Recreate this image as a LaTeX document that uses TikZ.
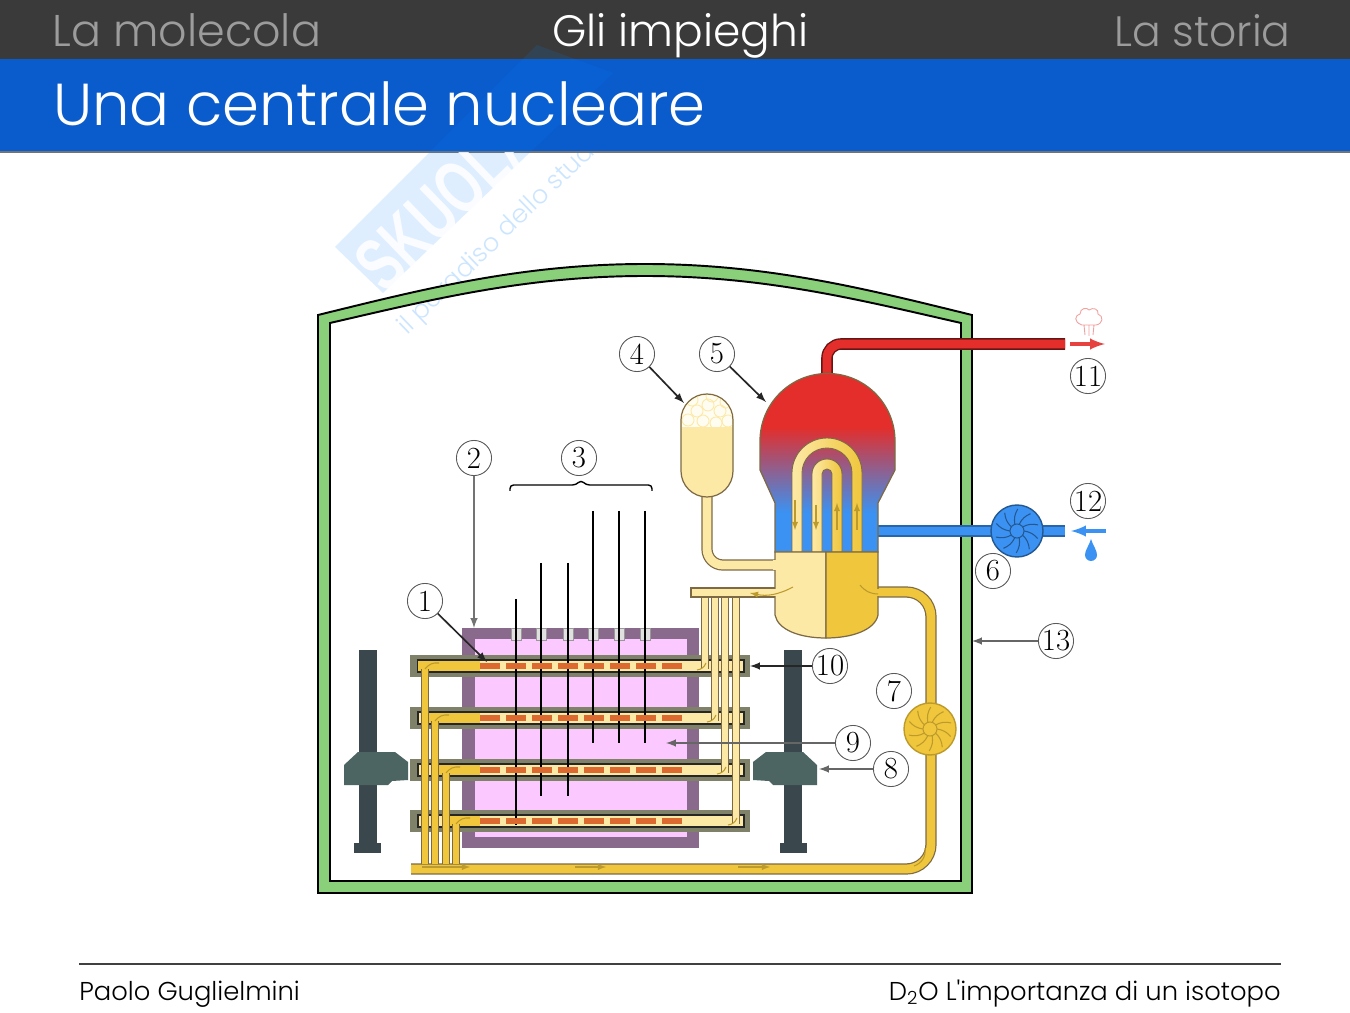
\documentclass[tikz,border=0pt]{standalone}
\usepackage{fontspec}
\newfontfamily\slidefont{Poppins Light}
\newfontfamily\markfont{Liberation Sans}
\definecolor{barblack}{HTML}{3A3A3A}
\definecolor{barblue}{HTML}{0A5CCD}
\definecolor{tabgrey}{HTML}{9C9C9C}
\definecolor{wallgreen}{HTML}{8AD07A}
\definecolor{vesselpurple}{HTML}{8A6A8C}
\definecolor{moderatorpink}{HTML}{FBC8FF}
\definecolor{tubegrey}{HTML}{7F8169}
\definecolor{fuelorange}{HTML}{DC6A30}
\definecolor{coolgold}{HTML}{EFC63C}
\definecolor{coolcream}{HTML}{FDE9A6}
\definecolor{steamred}{HTML}{E32E2B}
\definecolor{waterblue}{HTML}{3B92F2}
\definecolor{pipeedge}{HTML}{7D6A45}
\definecolor{machinedark}{HTML}{3A474C}
\definecolor{machinehead}{HTML}{4C6462}
\definecolor{flowtan}{HTML}{BD9A2C}
\pgfdeclareverticalshading{sgshade}{100bp}{color(0bp)=(waterblue); color(36bp)=(waterblue); color(60bp)=(steamred); color(100bp)=(steamred)}
\tikzset{
	numlabel/.style={circle,draw=black!65,fill=white,line width=.5pt,minimum size=20pt,inner sep=0pt,font=\fontsize{17.5}{17.5}\selectfont},
	leader/.style={-latex,draw=black!85,line width=.95pt},
	tabtext/.style={anchor=base west,inner sep=0pt,font=\slidefont\fontsize{25}{25}\selectfont},
	foottext/.style={inner sep=0pt,font=\slidefont\fontsize{14.7}{14.7}\selectfont},
	goldpipe/.style={draw=pipeedge,line width=.7pt,double=coolgold,double distance=5pt},
	creampipe/.style={draw=pipeedge,line width=.7pt,double=coolcream,double distance=5pt},
	goldriser/.style={draw=pipeedge,line width=.6pt,double=coolgold,double distance=3.2pt},
	creamriser/.style={draw=pipeedge,line width=.6pt,double=coolcream,double distance=3.2pt},
	flowmark/.style={-latex,draw=flowtan,line width=.6pt},
}
\newcommand{\impeller}[4]{
	\draw[draw=#4,fill=#3,line width=.8pt] (#1,#2) circle (26);
	\foreach \a in {0,36,...,324}
		\draw[draw=#4,line width=.6pt] ([shift={(#1,#2)}]\a:7) to[bend left=20] ([shift={(#1,#2)}]\a+20:22);
	\draw[draw=#4,fill=#3,line width=.6pt] (#1,#2) circle (7);
}
\begin{document}
\begin{tikzpicture}[x=0.02cm,y=-0.02cm]
	\useasboundingbox (0,0) rectangle (1350,1013);
	\fill[white] (0,0) rectangle (1350,1013);
	% slide bars
	\fill[barblack] (0,0) rectangle (1350,59);
	\fill[barblue] (0,59) rectangle (1350,151);
	\fill[black!55] (0,151) rectangle (1350,153);
	% watermark
	\fill[blue!50!cyan,opacity=.13] (335,247) -- (383,293) -- (613,73) -- (537,45) -- cycle;
	\begin{scope}
		\clip (0,153) rectangle (1350,1013);
		\node[rotate=44,text=white,opacity=.85,inner sep=0pt,font=\markfont\bfseries\fontsize{29}{29}\selectfont] (markname) at (478,170) {\scalebox{1}[1.5]{SKUOLA.net}};
		\node[rotate=44,text=blue!50!cyan,opacity=.2,inner sep=0pt,font=\slidefont\fontsize{14.5}{14.5}\selectfont] (markline) at (505,232) {il paradiso dello studio};
	\end{scope}
	\node[tabtext,text=tabgrey,font=\slidefont\fontsize{25.3}{25.3}\selectfont] (tabMol) at (52,47) {La molecola};
	\node[tabtext,text=white] (tabUse) at (552,47) {Gli impieghi};
	\node[tabtext,text=tabgrey,anchor=base east,font=\slidefont\fontsize{24.2}{24.2}\selectfont] (tabHist) at (1291,47) {La storia};
	\node[tabtext,text=white,font=\slidefont\fontsize{33.7}{33.7}\selectfont] (title) at (53,126) {Una centrale nucleare};
	% containment
	\draw[fill=wallgreen,even odd rule,line width=1.1pt] (318,893) -- (318,315) .. controls (420,290) and (520,264) .. (645,264) .. controls (770,264) and (870,290) .. (972,315) -- (972,893) -- cycle
		(330,881) -- (330,323) .. controls (430,300) and (525,276) .. (645,276) .. controls (765,276) and (860,300) .. (961,323) -- (961,881) -- cycle;
	% vessel and channels
	\fill[vesselpurple] (462,628) rectangle (699,848);
	\fill[moderatorpink] (475,639) rectangle (687,837);
	\foreach \ry/\gx in {666/418,718/428,770/439,821/449} {
		\fill[tubegrey] (410,\ry-11) rectangle (750,\ry+11);
		\draw[fill=coolcream,draw=black!85,line width=1.1pt] (418,\ry-6) rectangle (744,\ry+6);
		\fill[coolgold] (\gx,\ry-5) rectangle (480,\ry+5);
	}
	\foreach \rx/\rtop/\rbot in {516/599/825,541/563/796,568/563/796,593/511/743,619/511/743,645/511/743} {
		\draw[fill=black!12,draw=black!40,line width=.4pt] (\rx-5,628) rectangle (\rx+5,640);
		\draw[black,line width=1.5pt] (\rx,\rtop) -- (\rx,\rbot);
	}
	\foreach \ry in {666,718,770,821}
		\foreach \dx in {480,506,532,558,584,610,636,662}
			\fill[fuelorange] (\dx,\ry-3) rectangle (\dx+20,\ry+3);
	% feeder pipes
	\draw[goldpipe,rounded corners=14pt] (411,869) -- (931,869) -- (931,592) -- (878,592);
	\foreach \ry/\lx/\rx in {666/425/705,718/435/715,770/446/725,821/456/736} {
		\draw[goldriser] (\lx,\ry+3) -- (\lx,864);
		\draw[creamriser] (\rx,597) -- (\rx,\ry+3);
		\draw[flowmark,-] (\lx,\ry+3) to[bend left=30] (\lx+14,\ry-3);
		\draw[flowmark,-] (\rx-8,\ry+4) to[bend right=30] (\rx+1,\ry-3);
	}
	\draw[flowmark] (422,867) -- (470,867);
	\draw[flowmark] (575,867) -- (606,867);
	\draw[flowmark] (738,867) -- (770,867);
	\draw[flowmark,-] (925,848) to[bend left=40] (914,866);
	\draw[creampipe,rounded corners=9pt] (707,495) -- (707,565) -- (776,565);
	\draw[fill=coolcream,draw=pipeedge,line width=.6pt] (691,588) rectangle (776,597);
	% steam generator
	\draw[draw=black!55!steamred,line width=.8pt,double=steamred,double distance=5pt,rounded corners=8pt] (827,376) -- (827,344) -- (1065,344);
	\draw[draw=waterblue!70!black,line width=.8pt,double=waterblue,double distance=5pt] (876,531) -- (1065,531);
	\draw[shading=sgshade,draw=pipeedge,line width=.7pt] (775,552) -- (775,503) -- (760,470) -- (760,441) arc (180:360:67.5) -- (895,470) -- (878,503) -- (878,552) -- cycle;
	\draw[left color=coolcream,right color=coolgold,draw=pipeedge,line width=.5pt] (792,552) -- (792,473) arc (180:360:35) -- (862,552) -- (852,552) -- (852,473) arc (360:180:25) -- (802,552) -- cycle;
	\draw[left color=coolcream,right color=coolgold,draw=pipeedge,line width=.5pt] (812,552) -- (812,474) arc (180:360:15) -- (842,552) -- (832,552) -- (832,474) arc (360:180:5) -- (822,552) -- cycle;
	\draw[fill=coolcream,draw=pipeedge,line width=.7pt] (775,552) -- (775,615) .. controls (778,630) and (800,638) .. (826,638) -- (826,552) -- cycle;
	\draw[fill=coolgold,draw=pipeedge,line width=.7pt] (878,552) -- (878,615) .. controls (875,630) and (852,638) .. (826,638) -- (826,552) -- cycle;
	\fill[coolcream] (773,589) rectangle (778,596);
	\fill[coolcream] (773,560) rectangle (778,570);
	\fill[coolgold] (876,589) rectangle (881,596);
	\foreach \fx/\fa/\fb in {795/500/530,816/505/530,837/530/503,857/530/503}
		\draw[flowmark] (\fx,\fa) -- (\fx,\fb);
	\draw[flowmark] (793,587) to[bend left=20] (750,593);
	\draw[flowmark,-] (860,585) to[bend right=25] (878,594);
	% accumulator
	\draw[fill=coolcream,draw=pipeedge,line width=.7pt] (681,420) arc (180:360:26) -- (733,471) arc (0:180:26) -- cycle;
	\begin{scope}
		\clip (682,427) -- (682,420) arc (180:360:25) -- (732,427) -- cycle;
		\fill[white!85!coolcream] (681,390) rectangle (733,430);
		\foreach \bx/\by in {688/420,697/411,708/405,720/411,728/421,703/421,716/423,692/400,712/396,726/402}
			\draw[coolcream,line width=.5pt] (\bx,\by) circle (6);
	\end{scope}
	% fuelling machines
	\foreach \mx/\sx in {0/1,1161/-1} {
		\fill[machinedark] ({\mx+\sx*359},650) rectangle ({\mx+\sx*377},843);
		\fill[machinedark] ({\mx+\sx*354},843) rectangle ({\mx+\sx*381},853);
		\fill[machinehead] ({\mx+\sx*344},765) -- ({\mx+\sx*358},752) -- ({\mx+\sx*395},752) -- ({\mx+\sx*408},762) -- ({\mx+\sx*408},780) -- ({\mx+\sx*392},781) -- ({\mx+\sx*388},785) -- ({\mx+\sx*344},785) -- cycle;
	}
	% pumps
	\impeller{930}{729}{coolgold}{flowtan}
	\impeller{1017}{531}{waterblue}{waterblue!60!black}
	% steam and water signs
	\draw[-latex,draw=steamred!90,line width=1.9pt] (1070,344) -- (1105,344);
	\draw[-latex,draw=waterblue,line width=1.9pt] (1106,531) -- (1071,531);
	\fill[waterblue] (1091,539) .. controls (1093,546) and (1097,550) .. (1097,555) arc (0:180:6) .. controls (1085,550) and (1089,546) .. (1091,539) -- cycle;
	\draw[draw=steamred!45,line width=.5pt] (1082,325) .. controls (1073,322) and (1075,315) .. (1080,314) .. controls (1080,308) and (1087,307) .. (1089,310) .. controls (1093,307) and (1099,309) .. (1098,314) .. controls (1104,316) and (1103,324) .. (1096,325) -- cycle
		(1084,325) -- (1085,335) (1089,325) -- (1089,336) (1094,325) -- (1093,335);
	% bracket
	\draw[line width=.8pt,rounded corners=2pt] (510,491) -- (510,485) -- (576,485) -- (581,480) -- (586,485) -- (652,485) -- (652,491);
	% labels
	\node[numlabel] (n1) at (425,601) {1};
	\node[numlabel] (n2) at (474,458) {2};
	\node[numlabel] (n3) at (579,458) {3};
	\node[numlabel] (n4) at (637,354) {4};
	\node[numlabel] (n5) at (717,354) {5};
	\node[numlabel] (n6) at (993,571) {6};
	\node[numlabel] (n7) at (894,691) {7};
	\node[numlabel] (n8) at (891,769) {8};
	\node[numlabel] (n9) at (853,743) {9};
	\node[numlabel] (n10) at (830,666) {10};
	\node[numlabel] (n11) at (1088,376) {11};
	\node[numlabel] (n12) at (1088,501) {12};
	\node[numlabel] (n13) at (1056,641) {13};
	\coordinate (tipFuel) at (487,662);
	\coordinate (tipVessel) at (474,628);
	\coordinate (tipAccum) at (684,403);
	\coordinate (tipBoiler) at (766,402);
	\coordinate (tipMachine) at (819,769);
	\coordinate (tipModerator) at (666,743);
	\coordinate (tipTube) at (750,666);
	\coordinate (tipWall) at (972,641);
	\draw[leader] (n1) -- (tipFuel);
	\draw[leader,draw=black!55] (n2) -- (tipVessel);
	\draw[leader] (n4) -- (tipAccum);
	\draw[leader] (n5) -- (tipBoiler);
	\draw[leader,draw=black!60] (n8) -- (tipMachine);
	\draw[leader,draw=black!60] (n9) -- (tipModerator);
	\draw[leader] (n10) -- (tipTube);
	\draw[leader,draw=black!60] (n13) -- (tipWall);
	% footer
	\draw[black!75,line width=1.4pt] (79,964) -- (1281,964);
	\node[foottext,anchor=base west] (author) at (79,1000) {Paolo Guglielmini};
	\node[foottext,anchor=base east] (topic) at (1281,1000) {D\textsubscript{2}O L'importanza di un isotopo};
\end{tikzpicture}
\end{document}
